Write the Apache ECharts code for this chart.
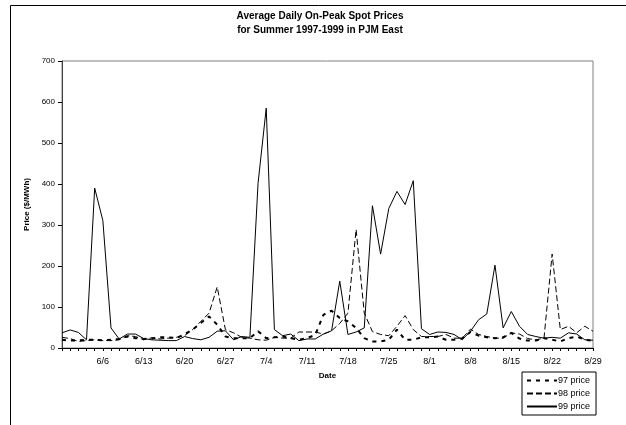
<!DOCTYPE html>
<html>
<head>
<meta charset="utf-8">
<script src="https://cdn.jsdelivr.net/npm/echarts@6/dist/echarts.min.js"></script>
<style>
  html, body { margin: 0; padding: 0; background: #fff; }
  #chart { width: 626px; height: 425px; }
</style>
</head>
<body>
<div id="chart"></div>
<script>
// weekdays, summer season
const dates = [
  '5/30',
  '6/2', '6/3', '6/4', '6/5', '6/6',
  '6/9', '6/10', '6/11', '6/12', '6/13',
  '6/16', '6/17', '6/18', '6/19', '6/20',
  '6/23', '6/24', '6/25', '6/26', '6/27',
  '6/30', '7/1', '7/2', '7/3', '7/4',
  '7/7', '7/8', '7/9', '7/10', '7/11',
  '7/14', '7/15', '7/16', '7/17', '7/18',
  '7/21', '7/22', '7/23', '7/24', '7/25',
  '7/28', '7/29', '7/30', '7/31', '8/1',
  '8/4', '8/5', '8/6', '8/7', '8/8',
  '8/11', '8/12', '8/13', '8/14', '8/15',
  '8/18', '8/19', '8/20', '8/21', '8/22',
  '8/25', '8/26', '8/27', '8/28', '8/29'
]

const price97 = [
  20, 18, 19, 20, 20, 19, 20, 22, 28, 24,
  22, 23, 26, 26, 24, 34, 45, 61, 77, 57,
  28, 24, 24, 24, 41, 24, 26, 28, 24, 20,
  24, 32, 81, 91, 73, 65, 49, 24, 16, 16,
  20, 45, 20, 20, 26, 26, 28, 20, 20, 24,
  39, 30, 26, 24, 26, 37, 23, 18, 18, 24,
  20, 16, 24, 28, 20, 18
]

const price98 = [
  26, 23, 16, 18, 20, 18, 18, 20, 30, 28,
  20, 25, 22, 24, 26, 30, 45, 65, 85, 149,
  45, 37, 26, 24, 20, 19, 26, 24, 24, 39,
  39, 39, 34, 42, 60, 85, 289, 85, 40, 33,
  30, 53, 79, 45, 28, 28, 28, 33, 24, 24,
  46, 33, 28, 24, 24, 37, 34, 23, 20, 24,
  229, 45, 53, 37, 53, 41
]

const price99 = [
  37, 44, 38, 20, 390, 311, 49, 22, 34, 34,
  23, 20, 19, 18, 18, 28, 23, 20, 26, 41,
  42, 20, 28, 26, 402, 585, 45, 30, 34, 18,
  22, 22, 34, 42, 163, 33, 39, 49, 347, 229,
  340, 382, 350, 408, 47, 33, 39, 38, 33, 20,
  41, 69, 83, 202, 49, 89, 53, 33, 28, 24,
  26, 24, 37, 34, 20, 19
]

const seriesNames = ['97 price', '98 price', '99 price']

const chart = echarts.init(document.getElementById('chart'))

const lineSeries = (name, data, lineStyle) => ({
  name,
  type: 'line',
  data,
  symbol: 'none',
  showSymbol: false,
  animation: false,
  lineStyle: Object.assign({ color: '#000' }, lineStyle),
  itemStyle: { color: '#000' }
})

const option = {
  backgroundColor: '#fff',
  animation: false,
  textStyle: { fontFamily: 'Liberation Sans, Arial, sans-serif' },
  title: {
    text: 'Average Daily On-Peak Spot Prices\nfor Summer 1997-1999 in PJM East',
    left: 315,
    top: 4,
    textAlign: 'center',
    textStyle: { fontSize: 10, fontWeight: 'bold', color: '#000', lineHeight: 14 }
  },
  graphic: [{
    type: 'rect',
    shape: { x: 10.5, y: 5.5, width: 700, height: 500 },
    style: { fill: 'none', stroke: '#000', lineWidth: 1 },
    silent: true
  }],
  legend: {
    data: seriesNames,
    orient: 'vertical',
    left: 522,
    top: 372,
    padding: [4, 6, 4, 4],
    itemGap: 4,
    itemWidth: 30,
    itemHeight: 10,
    borderColor: '#000',
    borderWidth: 1,
    itemStyle: { opacity: 0 },
    textStyle: { fontSize: 9, color: '#000', padding: [0, 0, 0, -4] }
  },
  grid: {
    left: 62,
    right: 33,
    top: 61,
    bottom: 77,
    show: true,
    borderColor: '#808080',
    borderWidth: 1
  },
  xAxis: {
    type: 'category',
    data: dates,
    boundaryGap: false,
    name: 'Date',
    nameLocation: 'middle',
    nameGap: 24,
    nameTextStyle: { fontSize: 8, fontWeight: 'bold', color: '#000' },
    axisLine: { lineStyle: { color: '#000', width: 1 } },
    axisTick: { interval: 0, length: 3, lineStyle: { color: '#000' } },
    axisLabel: {
      interval: (idx) => idx > 0 && idx % 5 === 0,
      fontSize: 9,
      color: '#000',
      margin: 9
    },
    splitLine: { show: false }
  },
  yAxis: {
    type: 'value',
    min: 0,
    max: 700,
    interval: 100,
    name: 'Price ($/MWh)',
    nameLocation: 'middle',
    nameGap: 25,
    nameTextStyle: { fontSize: 8, fontWeight: 'bold', color: '#000' },
    axisLine: { show: true, lineStyle: { color: '#404040', width: 1 } },
    axisTick: { show: true, length: 4, lineStyle: { color: '#000' } },
    axisLabel: { fontSize: 8, color: '#000', margin: 7 },
    splitLine: { show: false }
  },
  series: [
    lineSeries(seriesNames[0], price97, { width: 2, type: [4, 5] }),
    lineSeries(seriesNames[1], price98, { width: 1, type: [6, 3] }),
    lineSeries(seriesNames[2], price99, { width: 1, type: 'solid' })
  ]
}

chart.setOption(option)
</script>
</body>
</html>
